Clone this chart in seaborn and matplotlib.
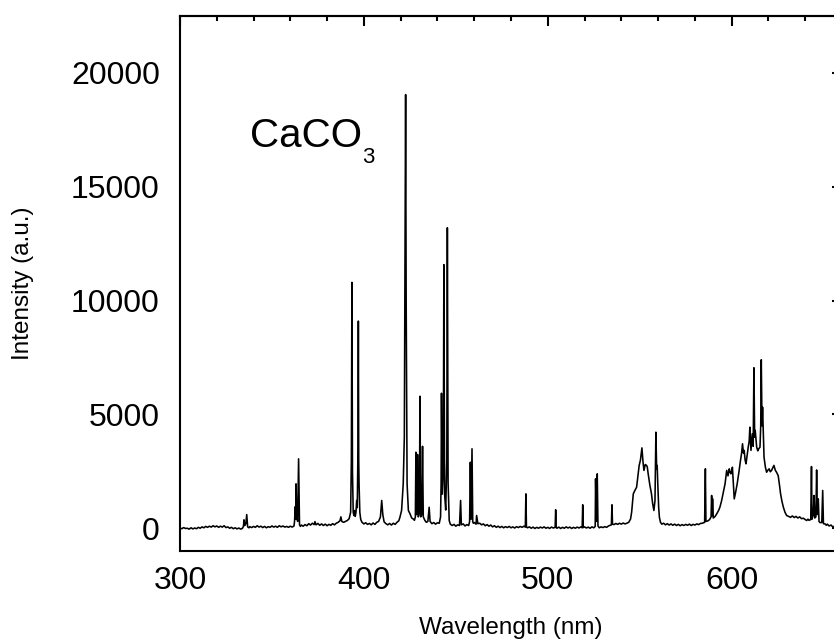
import matplotlib
matplotlib.use("Agg")
import matplotlib.pyplot as plt
from matplotlib.ticker import MultipleLocator, NullFormatter
import numpy as np
import pandas as pd
import seaborn as sns

# Emission spectrum of CaCO3: wavelength (nm) and intensity (a.u.)
wavelength_nm = [
    300, 301, 302, 303, 304, 305, 306, 307, 308, 309, 310, 311, 312, 313, 314, 315,
    316, 317, 318, 319, 320, 321, 322, 323, 324, 325, 326, 327, 328, 329, 330, 331,
    332, 333, 334, 334.5, 334.8, 335.2, 335.8, 336.3, 336.8, 337.5, 338, 339, 340,
    341, 342, 343, 344, 345, 346, 347, 348, 349, 350, 351, 352, 353, 354, 355, 356,
    357, 358, 359, 360, 361, 362, 362.3, 362.7, 363.0, 363.1, 363.5, 364.0, 364.5,
    365.0, 365.5, 366, 367, 368, 369, 370, 371, 372, 373, 373.4, 374, 375, 376, 377,
    378, 379, 380, 381, 382, 383, 384, 385, 386, 387, 387.5, 388, 389, 390, 391, 392,
    392.8, 393.2, 393.5, 393.8, 394.2, 394.6, 395.0, 395.3, 395.7, 396.1, 396.4,
    396.8, 397.0, 397.2, 397.4, 397.8, 398.3, 399, 400, 401, 402, 403, 404, 405, 406,
    407, 408, 409, 409.7, 410.3, 411, 412, 413, 414, 415, 416, 417, 418, 419, 419.6,
    420.5, 421.4, 422.0, 422.4, 422.7, 423.0, 423.5, 424.2, 425.1, 426, 426.8, 427.5,
    428.0, 428.3, 428.6, 429.0, 429.2, 429.6, 430.2, 430.5, 430.9, 431.5, 431.9,
    432.3, 433.2, 434, 434.8, 435.5, 436, 437, 438, 439, 440, 441, 441.7, 442.0,
    442.2, 442.6, 443.2, 443.5, 443.9, 444.5, 445.1, 445.4, 445.8, 446.4, 447, 448,
    449, 450, 451, 452, 452.6, 453, 454, 455, 456, 457, 457.5, 457.9, 458.3, 458.8,
    459.2, 459.5, 460, 461, 461.3, 462, 463, 464, 465, 466, 467, 468, 469, 470, 471,
    472, 473, 474, 475, 476, 477, 478, 479, 480, 481, 482, 483, 484, 485, 486, 487,
    487.8, 488.1, 488.4, 489, 490, 491, 492, 493, 494, 495, 496, 497, 498, 499, 500,
    501, 502, 503, 504.0, 504.3, 504.6, 505, 506, 507, 508, 509, 510, 511, 512, 513,
    514, 515, 516, 517, 518, 518.7, 519.0, 519.3, 520, 521, 522, 523, 524, 525,
    525.8, 526.0, 526.4, 526.9, 527.3, 528, 529, 530, 531, 532, 533, 534, 534.6,
    534.9, 535.2, 536, 537, 538, 539, 540, 541, 542, 543, 544, 545, 545.6, 546.5,
    547.3, 548.3, 549.0, 549.7, 550.4, 551.2, 551.8, 552.3, 553.0, 553.7, 554.1,
    554.6, 555.5, 556.4, 557.0, 557.7, 558.3, 558.8, 559.2, 559.5, 559.8, 560.3,
    560.7, 561.3, 562, 563, 564, 565, 566, 567, 568, 569, 570, 571, 572, 573, 574,
    575, 576, 577, 578, 579, 580, 581, 582, 583, 584, 585.3, 585.7, 586.0, 587, 588,
    588.8, 589.1, 589.4, 589.6, 590.0, 591, 592, 593, 593.6, 594.5, 595.5, 596.4,
    597.3, 598.0, 598.7, 599.2, 599.6, 600.0, 600.4, 601.0, 601.4, 602.2, 603, 604,
    604.8, 605.4, 605.9, 606.4, 606.8, 607.3, 607.8, 608.4, 609.0, 609.5, 609.9,
    610.5, 611.2, 611.7, 612.1, 612.5, 612.8, 613.6, 614.2, 614.7, 615.4, 615.8,
    616.1, 616.5, 616.8, 617.2, 617.6, 618.3, 619.0, 619.7, 620.4, 621.0, 621.7,
    622.3, 623.0, 623.7, 624.4, 625.3, 626.0, 626.6, 627.3, 628.1, 629, 629.9, 631,
    632, 633, 634, 635, 636, 637, 638, 639, 640, 640.8, 641.5, 642, 643, 643.4,
    643.7, 644.4, 644.8, 645.2, 645.8, 646.2, 646.6, 647.1, 647.5, 648, 649.0, 649.5,
    649.9, 650.8, 651.5, 652, 653, 654, 655, 656, 657,
]

intensity = [
    10, -20, 30, -10, 0, -40, 20, -30, 10, -20, 40, 0, 60, 20, 80, 40,
    90, 50, 110, 60, 100, 40, 90, 50, 110, 30, 60, 0, 40, -20, 20, -30,
    10, -40, 0, 80, 370, 120, 200, 600, 60, 20, 70, 30, 80,
    40, 110, 50, 90, 30, 80, 20, 70, 40, 100, 50, 90, 40, 110, 60, 100,
    50, 80, 40, 90, 50, 100, 300, 950, 400, 1950, 500, 300, 3050,
    150, 80, 140, 90, 160, 110, 200, 140, 220, 160, 290, 150, 210, 130, 190,
    120, 180, 110, 170, 130, 200, 150, 220, 260, 330, 500, 300, 260, 300, 340, 420,
    700, 3000, 10800, 2500, 700, 560, 780, 520, 700, 1220, 900,
    3500, 9100, 3000, 1880, 700, 380, 260, 190, 240, 170, 210, 150, 230, 170,
    260, 300, 500, 1220, 600, 280, 200, 150, 210, 140, 220, 170, 260, 330, 480,
    780, 1950, 4000, 12000, 19050, 10000, 1950, 780, 630, 450, 410, 350,
    500, 3340, 600, 700, 3240, 500, 700, 5800, 500, 600, 3600,
    500, 340, 260, 300, 920, 300, 200, 250, 180, 240, 220, 500, 2000,
    5930, 1500, 2500, 11580, 1500, 800, 3000, 13200, 2000, 340, 180, 120,
    170, 90, 150, 120, 1220, 150, 190, 100, 160, 120, 300, 2900, 400, 3490,
    300, 220, 250, 180, 560, 200, 220, 150, 190, 110, 160, 90, 140, 60, 110,
    40, 90, 30, 80, 20, 70, 30, 80, 20, 60, 10, 70, 30, 80, 40, 90,
    50, 1510, 60, 20, 60, 0, 50, -10, 40, 0, 50, 10, 60, 0, 40,
    -10, 50, 10, 40, 810, 30, 0, 50, -10, 40, 0, 60, 10, 50, -10,
    40, 0, 50, 10, 60, 20, 1030, 30, 60, 10, 50, 0, 60, 20,
    80, 2170, 300, 2390, 100, 20, 60, 30, 70, 40, 100, 130, 150,
    1030, 180, 160, 210, 170, 220, 180, 230, 190, 220, 260, 400, 700, 1510,
    1650, 1800, 2300, 2760, 3000, 3530, 2900, 2540, 2800, 2760, 2700,
    2390, 1900, 1510, 1100, 780, 1210, 4220, 2600, 2760, 2000, 925,
    480, 260, 180, 220, 150, 200, 140, 190, 130, 180, 120, 170, 110, 160, 120,
    170, 130, 180, 120, 170, 140, 190, 160, 210, 220, 260, 2610, 300, 320, 380,
    500, 1440, 550, 1300, 450, 520, 650, 800, 925, 1200, 1600, 1950,
    2540, 2300, 2610, 2450, 2390, 2500, 2680, 1800, 1290, 1600, 1950, 2500,
    2980, 3300, 3710, 3300, 3420, 3000, 2830, 3200, 3560, 3800, 4440,
    3420, 4150, 3600, 7050, 4000, 4300, 3560, 3400, 3490, 3560, 4500,
    7400, 4500, 5320, 4200, 3120, 2700, 2460, 2550, 2610, 2480, 2540,
    2650, 2760, 2550, 2460, 2310, 1900, 1510, 1200, 925, 700, 560, 520,
    480, 540, 470, 520, 450, 500, 420, 440, 380, 340, 400, 350, 380, 2710,
    400, 600, 1440, 450, 500, 2560, 600, 1290, 300, 250, 250, 1660,
    200, 190, 130, 180, 100, 140, 60, 90, 40,
]

x_major_ticks = [300, 400, 500, 600]
y_major_ticks = [0, 5000, 10000, 15000, 20000]

spectrum = pd.DataFrame({"Wavelength (nm)": wavelength_nm, "Intensity (a.u.)": intensity})

sns.set_style("white")
plt.rcParams["font.family"] = ["Liberation Sans", "DejaVu Sans"]

fig = plt.figure(figsize=(8.34, 6.44), dpi=100)
ax = fig.add_axes([0.2158, 0.1444, 0.7938, 0.8307])

sns.lineplot(data=spectrum, x="Wavelength (nm)", y="Intensity (a.u.)", ax=ax,
             color="black", linewidth=1.15, errorbar=None, sort=False)

ax.set_xlim(300, 660)
ax.set_ylim(-1000, 22500)

for side in ["left", "bottom", "top", "right"]:
    ax.spines[side].set_visible(True)
    ax.spines[side].set_linewidth(1.5)
    ax.spines[side].set_color("black")

ax.set_xticks(x_major_ticks)
ax.set_yticks(y_major_ticks)
ax.xaxis.set_minor_locator(MultipleLocator(20))
ax.yaxis.set_minor_locator(MultipleLocator(2500))
ax.tick_params(which="both", direction="out", width=1.5, color="black",
               top=False, right=False, labelsize=23, labelcolor="black")
ax.tick_params(which="major", length=7)
ax.tick_params(which="minor", length=3.5)
ax.tick_params(axis="x", which="major", pad=3.5)
ax.tick_params(axis="y", which="major", pad=7.5)

# mirrored ticks pointing into the frame on the top and right
top = ax.secondary_xaxis("top")
top.set_xticks(x_major_ticks + [700])
top.xaxis.set_minor_locator(MultipleLocator(20))
top.xaxis.set_major_formatter(NullFormatter())
top.tick_params(which="both", direction="in", width=1.5, color="black")
top.tick_params(which="major", length=7)
top.tick_params(which="minor", length=3.5)
top.spines["top"].set_linewidth(1.5)

right = ax.secondary_yaxis("right")
right.set_yticks(y_major_ticks)
right.yaxis.set_minor_locator(MultipleLocator(2500))
right.yaxis.set_major_formatter(NullFormatter())
right.tick_params(which="both", direction="in", width=1.5, color="black")
right.tick_params(which="major", length=7)
right.tick_params(which="minor", length=3.5)
right.spines["right"].set_linewidth(1.5)

ax.set_xlabel("Wavelength (nm)", fontsize=17.5, color="black")
ax.set_ylabel("Intensity (a.u.)", fontsize=17.5, color="black")
ax.xaxis.set_label_coords(0.5, -0.123)
ax.yaxis.set_label_coords(-0.2205, 0.5)

ax.text(338.1, 16734, "CaCO", fontsize=29, ha="left", va="baseline", color="black")
ax.text(398.8, 16062, "3", fontsize=16, ha="left", va="baseline", color="black")

fig.savefig("out.png", dpi=100)
